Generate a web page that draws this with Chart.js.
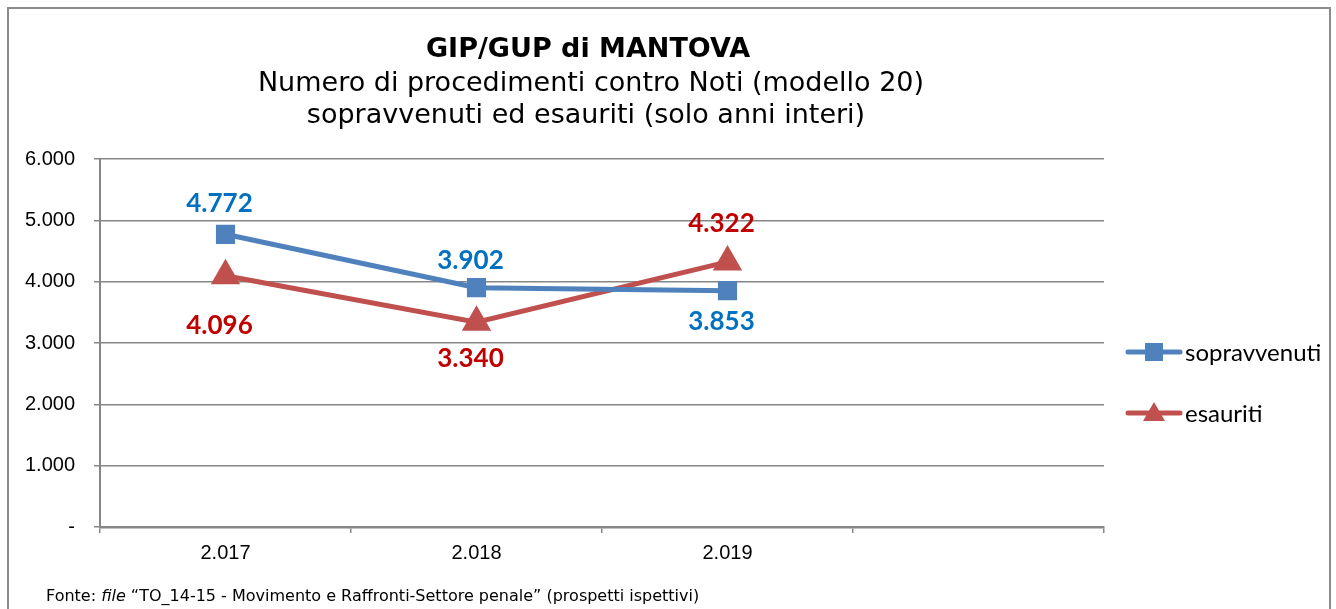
<!DOCTYPE html>
<html>
<head>
<meta charset="utf-8">
<script src="https://cdn.jsdelivr.net/npm/chart.js@4/dist/chart.umd.min.js"></script>
<style>
  html, body { margin: 0; padding: 0; background: #fff; }
  #wrap { position: relative; width: 1336px; height: 609px; overflow: hidden; }
  #frame { position: absolute; left: 7px; top: 7px; width: 1324px; height: 620px; border: 2px solid #8c8c8c; box-sizing: border-box; }
  #graph { position: absolute; left: 0; top: 0; }
  #fonte { position: absolute; left: 46px; top: 586px; font: 16px "DejaVu Sans"; color: #000; white-space: nowrap; }
</style>
</head>
<body>
<div id="wrap">
  <div id="frame"></div>
  <canvas id="graph" width="1336" height="609"></canvas>
  <div id="fonte">Fonte: <i>file</i> “TO_14-15 - Movimento e Raffronti-Settore penale” (prospetti ispettivi)</div>
</div>
<script>
// dati
const anni = ["2.017", "2.018", "2.019", ""];
const sopravvenuti = [4772, 3902, 3853, null];
const esauriti = [4096, 3340, 4322, null];
const yTicks = [0, 1000, 2000, 3000, 4000, 5000, 6000];

const titolo = "GIP/GUP di MANTOVA";
const sottotitolo = ["Numero di procedimenti contro Noti (modello 20)", "sopravvenuti ed esauriti (solo anni interi)"];

const BLU = "#4F81BD", ROSSO = "#C0504D";
const BLU_TXT = "#0070C0", ROSSO_TXT = "#C00000";

// formato italiano: 4.772, lo zero diventa "-"
function fmt(v) {
  if (v === 0) return "-";
  return String(v).replace(/\B(?=(\d{3})+(?!\d))/g, ".");
}

// titolo
const titlePlugin = {
  id: "titoli",
  afterDraw(chart) {
    const ctx = chart.ctx;
    ctx.save();
    ctx.fillStyle = "#000";
    ctx.textAlign = "center";
    ctx.textBaseline = "alphabetic";
    ctx.font = "bold 27px 'DejaVu Sans'";
    ctx.fillText(titolo, 588, 57);
    ctx.font = "27px 'DejaVu Sans'";
    ctx.fillText(sottotitolo[0], 591, 91);
    ctx.fillText(sottotitolo[1], 586, 123);
    ctx.restore();
  }
};

// etichette dei valori (sopra o sotto il punto)
const labelOff = [
  [-31, -27, 31],
  [50, 36, -38]
];
const labelPlugin = {
  id: "etichette",
  afterDatasetsDraw(chart) {
    const ctx = chart.ctx;
    ctx.save();
    ctx.textAlign = "center";
    ctx.textBaseline = "middle";
    ctx.font = "bold 26px Lato";
    chart.data.datasets.forEach((ds, i) => {
      const meta = chart.getDatasetMeta(i);
      ctx.fillStyle = i === 0 ? BLU_TXT : ROSSO_TXT;
      ds.data.forEach((v, j) => {
        if (v == null) return;
        const p = meta.data[j];
        ctx.fillText(fmt(v), p.x - 6, p.y + labelOff[i][j]);
      });
    });
    ctx.restore();
  }
};

// legenda a destra con linea e marcatore
const legendPlugin = {
  id: "legenda",
  afterDraw(chart) {
    const ctx = chart.ctx;
    const a = chart.chartArea;
    const x0 = a.right + 24;
    const ys = [352, 413];
    ctx.save();
    chart.data.datasets.forEach((ds, i) => {
      const y = ys[i];
      ctx.strokeStyle = ds.borderColor;
      ctx.lineWidth = 5;
      ctx.lineCap = "round";
      ctx.beginPath();
      ctx.moveTo(x0, y);
      ctx.lineTo(x0 + 52, y);
      ctx.stroke();
      ctx.fillStyle = ds.borderColor;
      const cx = x0 + 26;
      if (i === 0) {
        ctx.fillRect(cx - 9, y - 9, 18, 18);
      } else {
        ctx.beginPath();
        ctx.moveTo(cx, y - 11);
        ctx.lineTo(cx + 11, y + 8);
        ctx.lineTo(cx - 11, y + 8);
        ctx.closePath();
        ctx.fill();
      }
      ctx.fillStyle = "#000";
      ctx.font = "24px Lato";
      ctx.textAlign = "left";
      ctx.textBaseline = "middle";
      ctx.fillText(ds.label, x0 + 57, y + 1);
    });
    ctx.restore();
  }
};

const ctx = document.getElementById("graph").getContext("2d");
new Chart(ctx, {
  type: "line",
  data: {
    labels: anni,
    datasets: [
      {
        label: "sopravvenuti",
        data: sopravvenuti,
        borderColor: BLU,
        backgroundColor: BLU,
        borderWidth: 5,
        pointStyle: "rect",
        pointRadius: 10,
        pointHoverRadius: 10,
        tension: 0
      },
      {
        label: "esauriti",
        data: esauriti,
        borderColor: ROSSO,
        backgroundColor: ROSSO,
        borderWidth: 5,
        pointStyle: "triangle",
        pointRadius: 12,
        pointHoverRadius: 12,
        tension: 0
      }
    ]
  },
  options: {
    responsive: false,
    animation: false,
    events: [],
    layout: { padding: { top: 159, right: 232, bottom: 0, left: 0 } },
    plugins: {
      legend: { display: false },
      title: { display: false },
      tooltip: { enabled: false }
    },
    scales: {
      x: {
        offset: true,
        grid: { offset: true, drawOnChartArea: false, drawTicks: true, tickLength: 6, color: "#868686", lineWidth: 1.5 },
        border: { color: "#868686", width: 2.5 },
        ticks: { color: "#000", font: { family: "'Liberation Sans', Arial", size: 20 }, padding: 8, maxRotation: 0 },
        afterFit(s) { s.height = 82; }
      },
      y: {
        min: 0,
        max: 6000,
        afterBuildTicks(s) { s.ticks = yTicks.map(v => ({ value: v })); },
        grid: { color: "#868686", lineWidth: 1.5, tickLength: 6 },
        border: { color: "#868686", width: 2 },
        ticks: {
          color: "#000",
          font: { family: "'Liberation Sans', Arial", size: 20 },
          padding: 19,
          callback: v => fmt(v)
        },
        afterFit(s) { s.width = 100; }
      }
    }
  },
  plugins: [titlePlugin, labelPlugin, legendPlugin]
});
</script>
</body>
</html>
